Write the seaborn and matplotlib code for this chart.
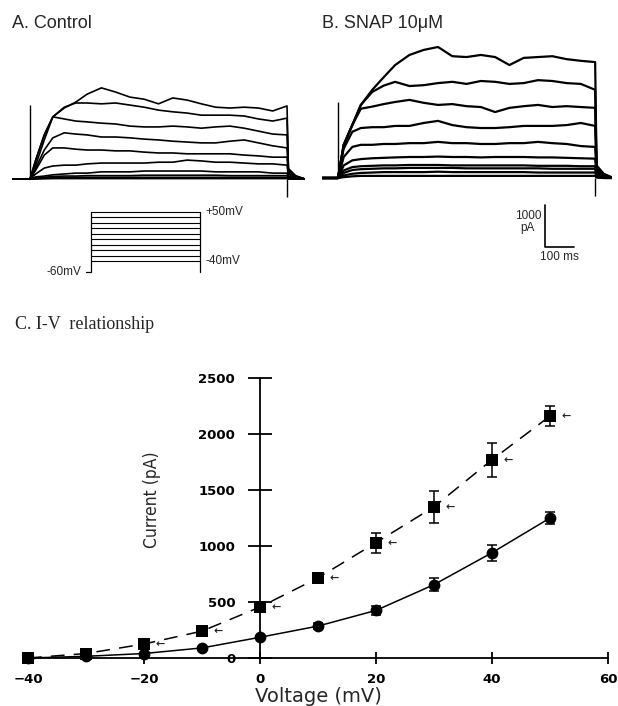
import matplotlib
matplotlib.use("Agg")
import matplotlib.pyplot as plt
import numpy as np
import pandas as pd
import seaborn as sns

# ---------------- data ----------------
# I-V relationship (mean +/- SEM, pA)
voltages = [-40, -30, -20, -10, 0, 10, 20, 30, 40, 50]
control_mean = [0, 15, 40, 90, 185, 285, 425, 655, 940, 1250]
control_sem = [0, 0, 0, 0, 0, 25, 40, 60, 70, 50]
snap_mean = [0, 40, 125, 240, 455, 715, 1030, 1350, 1770, 2160]
snap_sem = [0, 0, 0, 0, 45, 40, 90, 145, 150, 90]
snap_signif = [False, False, True, True, True, True, True, True, True, True]
x_ticks = [-40, -20, 0, 20, 40, 60]
y_ticks = [0, 500, 1000, 1500, 2000, 2500]

# current traces (ms / pA), one list per voltage step (+50 ... -40 mV)
trace_time = [-63, 0, 20, 50, 80, 120, 160, 200, 250, 300, 350, 400, 450,
              500, 550, 600, 650, 700, 750, 800, 850, 900, 905, 930, 963]
control_A1 = [0, 0, 450, 1050, 1480, 1690, 1830, 2020, 2170, 2070, 1950, 1900, 1790, 1930, 1880, 1790, 1710, 1690, 1710, 1690, 1620, 1740, 250, 80, 0]
control_A2 = [0, 0, 450, 1050, 1480, 1710, 1810, 1810, 1790, 1810, 1760, 1710, 1640, 1600, 1570, 1520, 1520, 1520, 1500, 1430, 1380, 1450, 220, 70, 0]
control_A3 = [0, 0, 330, 930, 1480, 1430, 1380, 1360, 1330, 1310, 1260, 1240, 1240, 1260, 1240, 1210, 1240, 1260, 1210, 1140, 1070, 1050, 180, 60, 0]
control_A4 = [0, 0, 260, 690, 980, 1100, 1070, 1050, 1000, 1000, 980, 950, 930, 900, 880, 860, 860, 900, 930, 860, 790, 740, 140, 50, 0]
control_A5 = [0, 0, 210, 570, 740, 740, 710, 690, 690, 670, 670, 640, 620, 620, 600, 600, 600, 600, 570, 550, 520, 520, 110, 40, 0]
control_A6 = [0, 0, 120, 260, 310, 330, 330, 360, 380, 380, 380, 380, 400, 400, 450, 430, 400, 400, 380, 360, 360, 330, 70, 20, 0]
control_A7 = [0, 0, 50, 70, 100, 120, 140, 140, 170, 170, 170, 190, 190, 190, 190, 190, 170, 170, 170, 170, 140, 140, 40, 10, 0]
control_A8 = [0, 0, 20, 40, 60, 70, 70, 80, 80, 80, 80, 90, 90, 90, 90, 90, 90, 80, 80, 80, 80, 80, 10, 0, 0]
control_A9 = [0, 0, 10, 20, 30, 30, 40, 40, 40, 40, 40, 40, 40, 40, 40, 40, 40, 40, 40, 40, 40, 40, 10, 0, 0]
control_A10 = [0, 0, 0, 5, 10, 10, 10, 10, 10, 10, 10, 10, 10, 10, 10, 10, 10, 10, 10, 10, 10, 10, 0, 0, 0]

snap_B1 = [0, 0, 790, 1260, 1740, 2100, 2400, 2690, 2930, 3050, 3120, 2900, 2880, 2930, 2880, 2690, 2860, 2880, 2900, 2830, 2790, 2760, 300, 100, 0]
snap_B2 = [0, 0, 790, 1260, 1740, 2050, 2200, 2290, 2190, 2210, 2260, 2290, 2240, 2310, 2290, 2240, 2260, 2330, 2310, 2260, 2240, 2100, 260, 90, 0]
snap_B3 = [0, 0, 790, 1260, 1650, 1700, 1760, 1810, 1860, 1790, 1740, 1760, 1710, 1690, 1570, 1670, 1710, 1740, 1690, 1710, 1690, 1670, 220, 70, 0]
snap_B4 = [0, 0, 700, 1100, 1190, 1210, 1210, 1240, 1240, 1310, 1360, 1260, 1210, 1190, 1190, 1210, 1240, 1240, 1240, 1260, 1310, 1240, 180, 60, 0]
snap_B5 = [0, 0, 500, 740, 790, 790, 810, 810, 830, 830, 860, 830, 830, 810, 810, 830, 830, 860, 830, 810, 760, 740, 130, 40, 0]
snap_B6 = [0, 0, 300, 420, 450, 470, 480, 490, 500, 500, 510, 500, 500, 490, 500, 500, 500, 490, 490, 480, 470, 460, 90, 30, 0]
snap_B7 = [0, 0, 180, 260, 280, 290, 300, 300, 310, 310, 310, 300, 300, 300, 300, 300, 300, 290, 290, 290, 280, 280, 60, 20, 0]
snap_B8 = [0, 0, 120, 190, 210, 220, 230, 230, 240, 240, 240, 240, 230, 230, 230, 230, 230, 230, 220, 220, 220, 220, 40, 10, 0]
snap_B9 = [0, 0, 60, 100, 120, 130, 140, 140, 140, 140, 150, 140, 140, 140, 140, 140, 140, 130, 130, 130, 130, 130, 30, 0, 0]
snap_B10 = [0, 0, 20, 40, 50, 50, 50, 50, 50, 50, 50, 50, 50, 50, 50, 50, 50, 50, 50, 50, 50, 50, 10, 0, 0]

control_traces = {"A1": control_A1, "A2": control_A2, "A3": control_A3, "A4": control_A4,
                  "A5": control_A5, "A6": control_A6, "A7": control_A7, "A8": control_A8,
                  "A9": control_A9, "A10": control_A10}
snap_traces = {"B1": snap_B1, "B2": snap_B2, "B3": snap_B3, "B4": snap_B4, "B5": snap_B5,
               "B6": snap_B6, "B7": snap_B7, "B8": snap_B8, "B9": snap_B9, "B10": snap_B10}
onset_spike_A = 1760
onset_spike_B = 1810
offset_transient = -430
step_end = 900

# voltage protocol (mV)
step_voltages = [-40, -30, -20, -10, 0, 10, 20, 30, 40, 50]
holding_voltage = -60

# scale bar
scale_current = 1000
scale_time = 100

# ---------------- figure ----------------
sns.set_style("white")
plt.rcParams["font.family"] = ["Liberation Sans", "DejaVu Sans"]

W, H = 618, 706
fig = plt.figure(figsize=(W / 100, H / 100), dpi=100)


def add_axes_px(l, t, r, b):
    return fig.add_axes([l / W, 1 - b / H, (r - l) / W, (b - t) / H])


def draw_traces(ax, traces, lw):
    rows = []
    for name, vals in traces.items():
        for t, v in zip(trace_time, vals):
            rows.append((name, t, v))
    df = pd.DataFrame(rows, columns=["trace", "time", "current"])
    sns.lineplot(data=df, x="time", y="current", units="trace", estimator=None,
                 color="black", lw=lw, ax=ax, legend=False, sort=False)
    ax.set_axis_off()


# Panel A
axA = add_axes_px(12, 40, 305, 200)
draw_traces(axA, control_traces, 1.2)
axA.vlines(0, 0, onset_spike_A, color="black", lw=1.0)
axA.vlines(step_end, offset_transient, 0, color="black", lw=1.0)
axA.set_xlim(-63, 963)
axA.set_ylim(-500, 3310)

# Panel B
axB = add_axes_px(322, 40, 612, 200)
draw_traces(axB, snap_traces, 1.6)
axB.vlines(0, 0, onset_spike_B, color="black", lw=1.0)
axB.vlines(step_end, offset_transient, 0, color="black", lw=1.0)
axB.set_xlim(-56, 959)
axB.set_ylim(-524, 3286)
# scale bar
sb_t, sb_i = 725, -1643
axB.plot([sb_t, sb_t, sb_t + scale_time], [sb_i + scale_current, sb_i, sb_i],
         color="black", lw=1.2, clip_on=False)
axB.text(sb_t - 14, sb_i + scale_current * 0.6, f"{scale_current}\npA", ha="right",
         va="center", multialignment="center", fontsize=8.5, linespacing=1.0)
axB.text(sb_t + scale_time / 2, sb_i - 230, f"{scale_time} ms", ha="center",
         va="center", fontsize=8.5)

fig.text(12 / W, 1 - 28 / H, "A. Control", fontsize=13, va="baseline")
fig.text(322 / W, 1 - 28 / H, "B. SNAP 10μM", fontsize=13, va="baseline")

# Voltage protocol
axP = add_axes_px(86, 205, 200, 275)
axP.set_xlim(-41, step_end)
axP.set_ylim(-65.8, 62.9)
axP.set_axis_off()
for v in step_voltages:
    axP.plot([0, step_end], [v, v], color="black", lw=0.8, clip_on=False)
axP.plot([-41, 0, 0], [holding_voltage, holding_voltage, max(step_voltages)],
         color="black", lw=0.9, clip_on=False)
axP.plot([step_end, step_end], [holding_voltage, max(step_voltages)],
         color="black", lw=0.9, clip_on=False)
axP.annotate("+50mV", (step_end, 50), xytext=(4, 0), textcoords="offset points",
             ha="left", va="center", fontsize=8.5)
axP.annotate("-40mV", (step_end, -40), xytext=(4, 0), textcoords="offset points",
             ha="left", va="center", fontsize=8.5)
axP.annotate("-60mV", (-41, holding_voltage), xytext=(-3, 0), textcoords="offset points",
             ha="right", va="center", fontsize=8.5)

# Panel C: I-V relationship
fig.text(15 / W, 1 - 329 / H, "C. I-V  relationship", family="Liberation Serif",
         fontsize=13, va="baseline")

ax = add_axes_px(28, 378, 608, 658)
df_iv = pd.DataFrame({
    "voltage": voltages + voltages,
    "current": control_mean + snap_mean,
    "condition": ["Control"] * len(voltages) + ["SNAP"] * len(voltages),
})
sns.lineplot(data=df_iv, x="voltage", y="current", style="condition",
             markers={"Control": "o", "SNAP": "s"},
             dashes={"Control": "", "SNAP": (9, 6)},
             color="black", markersize=8.5, lw=1.1, markeredgewidth=0,
             ax=ax, legend=False, clip_on=False)
ax.errorbar(voltages, snap_mean, yerr=snap_sem, fmt="none", ecolor="black",
            capsize=3.5, elinewidth=1.1, capthick=1.1, clip_on=False)
ax.errorbar(voltages, control_mean, yerr=control_sem, fmt="none", ecolor="black",
            capsize=3.5, elinewidth=1.1, capthick=1.1, clip_on=False)
for v, i, s in zip(voltages, snap_mean, snap_signif):
    if s:
        ax.annotate("←", (v, i), xytext=(8, 0), textcoords="offset points",
                    ha="left", va="center", fontsize=8, fontweight="bold",
                    family="DejaVu Sans")

ax.set_xlim(-40, 60)
ax.set_ylim(0, 2500)
ax.spines["left"].set_position(("data", 0))
ax.spines["bottom"].set_position(("data", 0))
ax.spines["top"].set_visible(False)
ax.spines["right"].set_visible(False)
for sp in ("left", "bottom"):
    ax.spines[sp].set_color("black")
    ax.spines[sp].set_linewidth(1.3)
ax.set_xticks(x_ticks)
ax.set_yticks(y_ticks)
ax.tick_params(axis="both", direction="inout", colors="black", width=1.3,
               bottom=True, left=True)
ax.tick_params(axis="y", length=17, pad=9.4)
ax.tick_params(axis="x", length=8, pad=6.8)
for lbl in ax.get_xticklabels() + ax.get_yticklabels():
    lbl.set_family("DejaVu Sans")
    lbl.set_fontweight("bold")
    lbl.set_fontsize(9.5)

ax.set_xlabel("Voltage (mV)", fontsize=14, family="DejaVu Sans")
ax.xaxis.set_label_coords(0.5, -0.105)
ax.set_ylabel("Current (pA)", fontsize=12.5,
              family=["Liberation Sans Narrow", "DejaVu Sans"], stretch="condensed")
ax.yaxis.set_label_coords(0.214, 0.564)
ax.yaxis.label.set_va("center")
ax.patch.set_alpha(0)

fig.savefig("out.png", dpi=100)
